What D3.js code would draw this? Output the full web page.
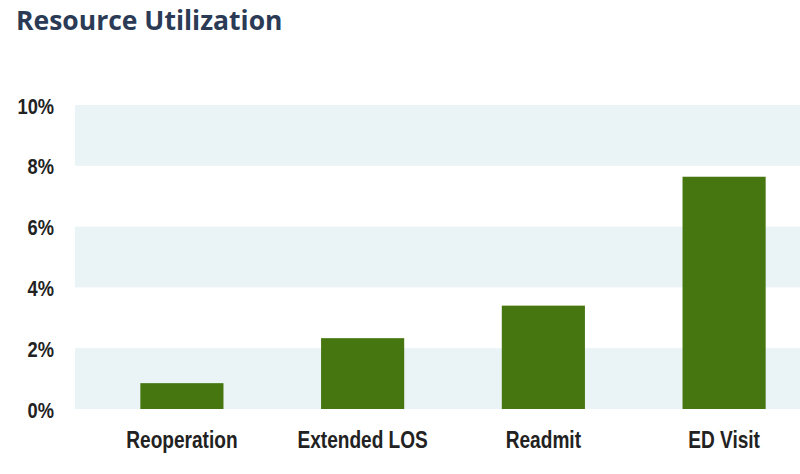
<!DOCTYPE html>
<html>
<head>
<meta charset="utf-8">
<style>
  body { margin: 0; background: #fff; }
  .tick text { font-family: "Liberation Sans Narrow", "Arial Narrow", "Liberation Sans", sans-serif; font-weight: bold; fill: #222; }
</style>
</head>
<body>
<div id="chart"></div>
<script src="https://d3js.org/d3.v7.min.js"></script>
<script>
// data
var categories = ["Reoperation", "Extended LOS", "Readmit", "ED Visit"];
var values = [0.85, 2.33, 3.40, 7.64];
var yTicks = [0, 2, 4, 6, 8, 10];
var bandStops = [[0, 2], [4, 6], [8, 10]];

var width = 800, height = 474;
var plotLeft = 75, plotRight = 800;
var squeeze = 0.83; // narrow-looking labels (no condensed font installed)

var svg = d3.select("#chart").append("svg")
    .attr("width", width)
    .attr("height", height);

// title
svg.append("text")
    .attr("x", 16)
    .attr("y", 30)
    .style("font-family", "'Open Sans', sans-serif")
    .style("font-weight", "bold")
    .style("font-size", "26.5px")
    .attr("fill", "#2b3b55")
    .text("Resource Utilization");

var x = d3.scaleBand()
    .domain(categories)
    .range([106, plotRight])
    .paddingInner(0.54)
    .paddingOuter(0.19);

var y = d3.scaleLinear()
    .domain([0, 10])
    .range([409, 105]);

// shaded bands
svg.append("g")
  .selectAll("rect")
  .data(bandStops)
  .enter().append("rect")
    .attr("x", plotLeft)
    .attr("width", plotRight - plotLeft)
    .attr("y", function(d) { return y(d[1]); })
    .attr("height", function(d) { return y(d[0]) - y(d[1]); })
    .attr("fill", "#eaf3f5");

// bars
svg.append("g")
  .selectAll("rect")
  .data(values)
  .enter().append("rect")
    .attr("x", function(d, i) { return x(categories[i]); })
    .attr("width", x.bandwidth())
    .attr("y", function(d) { return y(d); })
    .attr("height", function(d) { return y(0) - y(d); })
    .attr("fill", "#46760f");

// y axis
var yAxis = svg.append("g")
    .attr("transform", "translate(" + plotLeft + ",0)")
    .call(d3.axisLeft(y).tickValues(yTicks).tickFormat(function(d) { return d + "%"; })
      .tickSize(0));
yAxis.select(".domain").remove();
yAxis.selectAll("text")
    .style("font-size", "22px")
    .attr("x", -21 / squeeze)
    .attr("dy", "0.37em")
    .attr("transform", "scale(" + squeeze + ",1)");

// x axis
var xAxis = svg.append("g")
    .attr("transform", "translate(0,409)")
    .call(d3.axisBottom(x).tickSize(0).tickPadding(22.5));
xAxis.select(".domain").remove();
xAxis.selectAll("text")
    .style("font-size", "23px")
    .attr("transform", "scale(" + squeeze + ",1)");
</script>
</body>
</html>
